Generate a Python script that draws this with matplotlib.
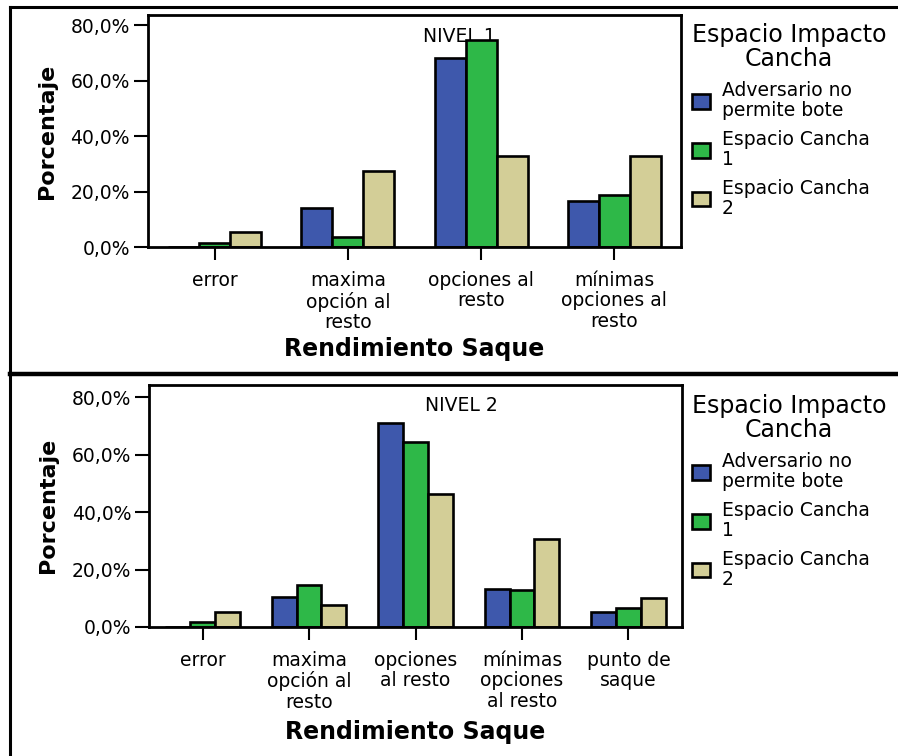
import numpy as np
import matplotlib
matplotlib.use("Agg")
import matplotlib.pyplot as plt
from matplotlib.lines import Line2D
from matplotlib.patches import Patch

W, H = 898, 756

categorias_n1 = ["error", "maxima\nopción al\nresto", "opciones al\nresto",
                 "mínimas\nopciones al\nresto"]
adversario_n1 = [0.0, 14.1, 68.2, 16.7]
cancha1_n1 = [1.7, 3.8, 74.7, 18.8]
cancha2_n1 = [5.5, 27.5, 33.0, 33.0]

categorias_n2 = ["error", "maxima\nopción al\nresto", "opciones\nal resto",
                 "mínimas\nopciones\nal resto", "punto de\nsaque"]
adversario_n2 = [0.0, 10.5, 71.2, 13.1, 5.2]
cancha1_n2 = [1.6, 14.6, 64.3, 12.8, 6.5]
cancha2_n2 = [5.2, 7.7, 46.2, 30.8, 10.2]

series = ["Adversario no\npermite bote", "Espacio Cancha\n1", "Espacio Cancha\n2"]
colores = ["#3E58AC", "#2EB848", "#D3CE97"]
yticks = [0, 20, 40, 60, 80]
ytick_labels = ["0,0%", "20,0%", "40,0%", "60,0%", "80,0%"]


def fig_xy(x, y):
    # pixeles (desde arriba a la izquierda) -> fraccion de figura
    return x / W, 1 - y / H


def panel(fig, caja, cats, valores, nivel, ymax, pos):
    """
    Dibuja un panel de barras agrupadas con su leyenda.
    caja: (izq, arriba, der, abajo) en pixeles
    """
    izq, arriba, der, abajo = caja
    ax = fig.add_axes([izq / W, 1 - abajo / H, (der - izq) / W, (abajo - arriba) / H])
    ancho = 0.233
    x = np.arange(len(cats))
    for k, (vals, col) in enumerate(zip(valores, colores)):
        ax.bar(x + (k - 1) * ancho, vals, ancho, color=col,
               edgecolor="black", linewidth=1.9, zorder=2)
    ax.set_xlim(-0.5, len(cats) - 0.5)
    ax.set_ylim(0, ymax)
    ax.set_yticks(yticks, ytick_labels)
    ax.set_xticks(x, cats, multialignment="center", linespacing=1.1)
    ax.tick_params(axis="y", length=10, width=1.5, pad=3, labelsize=13.5)
    ax.tick_params(axis="x", length=9, width=1.5, pad=8, labelsize=13.5)
    for s in ax.spines.values():
        s.set_linewidth(2.0)
    ax.text(pos["nivel"][0], pos["nivel"][1], nivel, transform=ax.transAxes,
            ha="center", va="baseline", fontsize=13.5, zorder=1)
    ax.set_ylabel("Porcentaje", fontsize=16, fontweight="bold", va="center")
    ax.yaxis.set_label_coords(pos["ylab"], 0.5)
    ax.set_xlabel("Rendimiento Saque", fontsize=17, fontweight="bold", va="center")
    ax.xaxis.set_label_coords(0.5, pos["xlab"])

    handles = [Patch(facecolor=c, edgecolor="black", linewidth=1.9) for c in colores]
    leg = fig.legend(handles, series, loc="upper left",
                     bbox_to_anchor=fig_xy(691.7, pos["leg"]),
                     bbox_transform=fig.transFigure, frameon=False,
                     borderpad=0, borderaxespad=0, alignment="left",
                     title="Espacio Impacto\nCancha", title_fontsize=17,
                     fontsize=13.5, handlelength=1.0, handleheight=0.8,
                     handletextpad=0.6, labelspacing=0.5)
    leg.get_title().set_multialignment("center")
    leg.get_title().set_linespacing(1.02)
    for t in leg.get_texts():
        t.set_linespacing(1.1)
    return ax


fig = plt.figure(figsize=(W / 100, H / 100), dpi=100)

panel(fig, (148, 15.3, 681, 247.3), categorias_n1,
      [adversario_n1, cancha1_n1, cancha2_n1], "NIVEL 1", 83.6,
      {"nivel": (0.585, 0.886), "ylab": -0.1886, "xlab": -0.438, "leg": 23.0})
panel(fig, (149.3, 384.7, 681.7, 627), categorias_n2,
      [adversario_n2, cancha1_n2, cancha2_n2], "NIVEL 2", 84.4,
      {"nivel": (0.587, 0.893), "ylab": -0.191, "xlab": -0.432, "leg": 394.0})

# marcos de los dos paneles
for (x0, y0), (x1, y1), lw in [((10, 6.5), (W + 5, 6.5), 2.2),
                               ((10, 6.5), (10, H + 5), 2.2),
                               ((10, 374), (W + 5, 374), 3.2)]:
    a, b = fig_xy(x0, y0)
    c, d = fig_xy(x1, y1)
    fig.add_artist(Line2D([a, c], [b, d], color="black", linewidth=lw,
                          transform=fig.transFigure))

fig.savefig("out.png", dpi=100)
